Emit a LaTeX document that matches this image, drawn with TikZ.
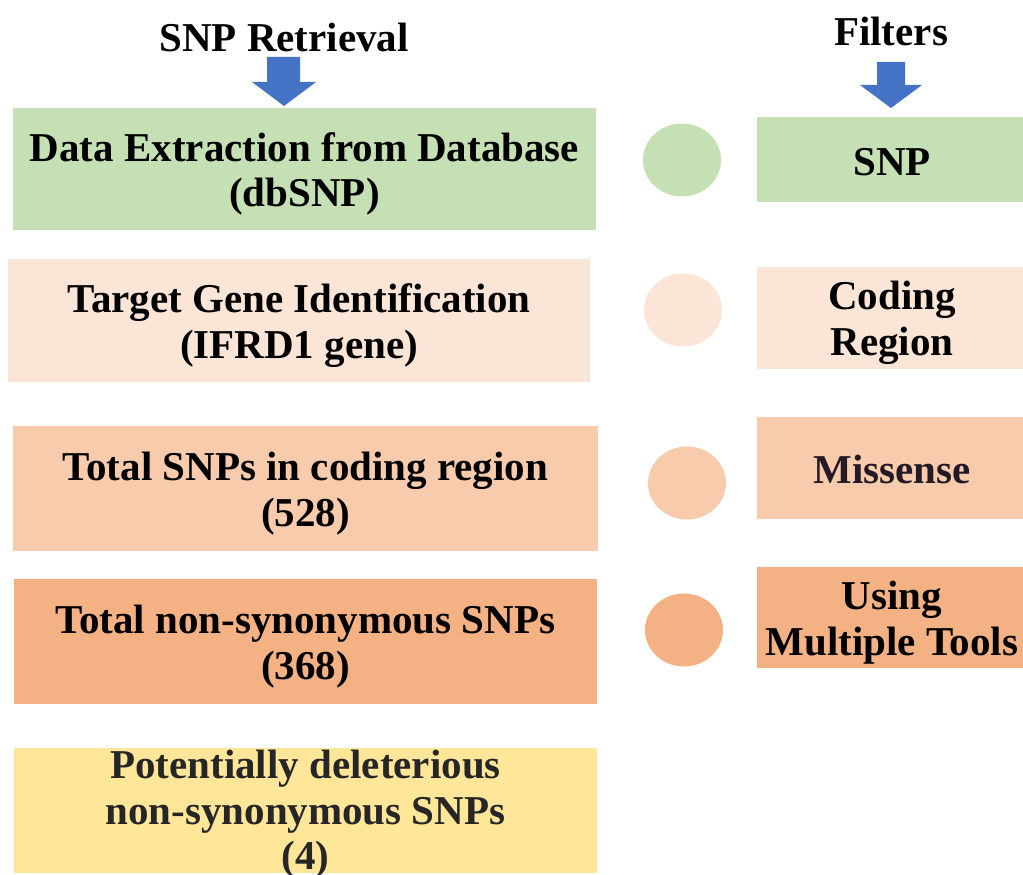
\documentclass[tikz,border=0pt]{standalone}
\usepackage{fontspec}
\setmainfont{Liberation Serif}
\usetikzlibrary{shapes.geometric}
\definecolor{cgreen}{HTML}{C5E0B4}
\definecolor{cpink}{HTML}{FBE5D6}
\definecolor{cpeach}{HTML}{F8CBAD}
\definecolor{corange}{HTML}{F4B183}
\definecolor{cyellow}{HTML}{FFE699}
\definecolor{cblue}{HTML}{4472C4}
\definecolor{cmiss}{HTML}{231A26}
\definecolor{cgray}{HTML}{262626}
\tikzset{
  txt/.style={font=\fontsize{41}{45.5}\selectfont\bfseries, align=center, inner sep=0pt},
  box/.style={draw=none, rectangle, inner sep=0pt},
  dot/.style={ellipse, draw=none, inner sep=0pt, minimum width=78pt, minimum height=73pt},
  bigarrow/.style={fill=cblue}
}
\begin{document}
\begin{tikzpicture}[x=1pt,y=-1pt]
\clip (0,0) rectangle (1023,875);
\useasboundingbox (0,0) rectangle (1023,875);
\fill[white] (0,0) rectangle (1023,875);
% headers
\node[txt] (h1) at (284,37) {SNP Retrieval};
\node[txt] (h2) at (891,31) {Filters};
% arrows
\fill[bigarrow] (267,57) -- (300,57) -- (300,82) -- (316,82) -- (284,106) -- (252,82) -- (267,82) -- cycle;
\fill[bigarrow] (877,62) -- (905,62) -- (905,85) -- (922,85) -- (891,108) -- (860,85) -- (877,85) -- cycle;
% left boxes
\node[box, fill=cgreen, minimum width=583pt, minimum height=122pt] (b1) at (304.5,169) {};
\node[box, fill=cpink, minimum width=582pt, minimum height=123pt] (b2) at (299,320.5) {};
\node[box, fill=cpeach, minimum width=585pt, minimum height=125pt] (b3) at (305.5,488.5) {};
\node[box, fill=corange, minimum width=583pt, minimum height=125pt] (b4) at (305.5,641.5) {};
\node[box, fill=cyellow, minimum width=583pt, minimum height=125pt] (b5) at (305.5,810.5) {};
\node[txt] (t1) at ([yshift=-5pt]b1.center) {Data Extraction from Database\\(dbSNP)};
\node[txt] (t2) at ([yshift=-5pt]b2.center) {Target Gene Identification\\(IFRD1 gene)};
\node[txt] (t3) at ([yshift=-5pt]b3.center) {Total SNPs in coding region\\(528)};
\node[txt] (t4) at ([yshift=-5pt]b4.center) {Total non-synonymous SNPs\\(368)};
\node[txt, text=cgray] (t5) at ([yshift=-4pt]b5.center) {Potentially deleterious\\non-synonymous SNPs\\(4)};
% circles
\node[dot, fill=cgreen] (c1) at (682,160) {};
\node[dot, fill=cpink] (c2) at (683,310) {};
\node[dot, fill=cpeach] (c3) at (687,483) {};
\node[dot, fill=corange] (c4) at (684,630) {};
% right boxes
\node[box, fill=cgreen, minimum width=270pt, minimum height=85pt] (r1) at (892,159.5) {};
\node[box, fill=cpink, minimum width=270pt, minimum height=102pt] (r2) at (892,318) {};
\node[box, fill=cpeach, minimum width=270pt, minimum height=102pt] (r3) at (892,468) {};
\node[box, fill=corange, minimum width=270pt, minimum height=101pt] (r4) at (892,617.5) {};
\node[txt] (s1) at ([yshift=-3pt]r1.center) {SNP};
\node[txt] (s2) at ([yshift=-5pt]r2.center) {Coding\\Region};
\node[txt, text=cmiss] (s3) at ([yshift=-1pt]r3.center) {Missense};
\node[txt] (s4) at ([yshift=-5pt]r4.center) {Using\\Multiple Tools};
\end{tikzpicture}
\end{document}
